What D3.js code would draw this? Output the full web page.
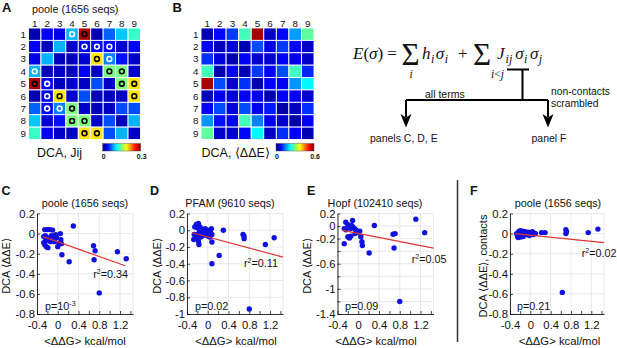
<!DOCTYPE html>
<html>
<head>
<meta charset="utf-8">
<script src="https://cdn.jsdelivr.net/npm/d3@7"></script>
<style>
body { margin: 0; background: #fff; }
svg text { font-family: "Liberation Sans", Arial, sans-serif; fill: #111; }
.eq text { font-family: "Liberation Serif", "DejaVu Serif", serif; }
</style>
</head>
<body>
<svg id="chart" width="617" height="348"></svg>
<script>
// ---- data ----
var sites = [1, 2, 3, 4, 5, 6, 7, 8, 9];

// panel A: DCA Jij (colour scale 0..0.3)
var jijValues = [
  [.015, .036, .030, .090, .288, .015, .066, .096, .129],
  [.036, .018, .090, .021, .036, .036, .039, .024, .036],
  [.030, .090, .018, .018, .024, .195, .075, .042, .021],
  [.090, .018, .021, .018, .036, .021, .150, .150, .021],
  [.288, .036, .018, .024, .021, .060, .021, .150, .195],
  [.015, .036, .195, .021, .060, .018, .018, .021, .195],
  [.066, .039, .075, .150, .021, .018, .018, .060, .060],
  [.096, .024, .042, .150, .150, .021, .060, .018, .090],
  [.129, .036, .021, .021, .195, .195, .060, .090, .021]
];
// panel B: DCA <ddE> (colour scale 0..0.6)
var ddeValues = [
  [.030, .078, .108, .264, .576, .042, .078, .168, .282],
  [.072, .036, .054, .030, .120, .060, .108, .078, .042],
  [.102, .054, .030, .072, .048, .048, .072, .060, .042],
  [.264, .030, .072, .030, .108, .072, .120, .264, .096],
  [.576, .120, .048, .102, .030, .072, .072, .162, .222],
  [.036, .066, .054, .072, .072, .030, .072, .072, .048],
  [.072, .120, .054, .120, .066, .090, .024, .042, .102],
  [.162, .084, .066, .264, .150, .066, .048, .024, .072],
  [.282, .042, .048, .078, .222, .042, .102, .072, .030]
];
var contacts = [[1,4],[1,5],[2,5],[2,6],[2,7],[3,6],[3,7],[4,7],[4,8],[5,8],[5,9],[6,9]];

// scatter panels: [<ddG>, DCA <ddE>]
var poolePoints = [
  [-0.25,0.04],[-0.2,0.04],[-0.15,0.04],[-0.1,0.035],[0.3,0.075],
  [-0.27,-0.03],[-0.24,-0.02],[-0.2,-0.05],[-0.16,-0.04],[-0.12,-0.02],[-0.08,-0.05],[-0.04,-0.01],[-0.02,-0.04],[0.05,0.0],[0.06,-0.06],
  [-0.27,-0.09],[-0.25,-0.11],[-0.22,-0.13],[-0.19,-0.14],[-0.23,-0.07],[-0.14,-0.08],[-0.06,-0.08],[0.0,-0.13],[0.03,-0.1],[0.07,-0.1],
  [0.08,-0.21],[0.22,-0.28],[0.69,-0.12],[0.72,-0.17],[0.7,-0.26],[1.15,-0.18],[1.32,-0.25],[0.8,-0.59]
];
var pfamPoints = [
  [-0.22,0.07],[-0.18,0.08],[-0.25,0.04],[-0.2,0.03],[-0.15,0.04],
  [-0.1,0.01],[-0.07,-0.01],[-0.05,0.02],[-0.03,-0.02],[0.0,0.0],[0.02,-0.03],[0.05,-0.01],[0.07,0.02],[0.08,-0.05],
  [-0.12,-0.04],[-0.16,-0.02],[-0.2,-0.05],[-0.26,-0.05],[-0.27,-0.11],[-0.22,-0.09],[-0.18,-0.13],[-0.17,-0.17],
  [-0.13,-0.08],[-0.08,-0.06],[0.0,-0.07],[0.04,-0.08],[0.08,-0.14],
  [0.3,0.0],[0.68,-0.05],[0.7,-0.07],[0.7,-0.1],[1.11,-0.17],[1.28,-0.09],[0.22,-0.3],[0.08,-0.4],[0.8,-0.94]
];
var hopfPoints = [
  [-0.24,0.06],[-0.11,0.09],[-0.2,0.02],[-0.17,0.0],[-0.13,0.01],[-0.1,-0.02],[-0.07,-0.04],[-0.05,-0.06],
  [-0.02,-0.08],[0.0,-0.1],[0.03,-0.08],[-0.27,-0.04],[-0.24,-0.06],[-0.15,-0.04],[-0.2,-0.17],[-0.17,-0.19],
  [-0.14,-0.16],[-0.27,-0.28],[0.05,-0.17],[0.07,-0.25],[0.08,-0.31],[-0.06,-0.12],[0.31,0.01],[0.21,-0.43],
  [0.67,-0.13],[0.71,-0.12],[0.69,-0.35],[1.11,0.11],[1.28,-0.105],[0.8,-1.2]
];
var contactPoints = [
  [-0.27,0.0],[-0.25,-0.03],[-0.23,0.02],[-0.21,-0.01],[-0.2,0.03],[-0.18,-0.02],[-0.16,0.01],[-0.14,-0.03],
  [-0.12,0.0],[-0.1,0.02],[-0.08,-0.01],[-0.06,0.0],[-0.04,0.015],[-0.02,-0.02],[0.0,0.01],[0.02,0.0],
  [0.04,0.02],[0.06,-0.01],[0.08,0.005],[-0.24,-0.04],[-0.19,-0.035],[-0.15,0.025],[0.1,0.0],
  [0.22,0.01],[0.29,0.01],[0.7,0.04],[0.71,0.02],[0.7,0.0],[1.14,0.01],[1.33,0.045],[0.63,-0.585]
];
// regression lines (end points)
var pooleFit = [[-0.28,-0.03],[1.3,-0.32]];
var pfamFit = [[-0.3,-0.03],[1.45,-0.32]];
var hopfFit = [[-0.3,-0.07],[1.45,-0.35]];
var contactFit = [[-0.3,0.0],[1.45,-0.09]];

var xTickValues = [-0.4, -0.2, 0, 0.2, 0.4, 0.6, 0.8, 1.0, 1.2, 1.4];
var xTickLabels = [-0.4, 0, 0.4, 0.8, 1.2];
var yTicks08 = [0.2, 0, -0.2, -0.4, -0.6, -0.8];
var yTicks10 = [0.2, 0, -0.2, -0.4, -0.6, -0.8, -1];
var yTicks14 = [0.2, 0, -0.2, -0.4, -0.6, -0.8, -1, -1.2, -1.4];
var yLabels14 = [0.2, 0, -0.2, -0.6, -1, -1.4];

var svg = d3.select("#chart");
var defs = svg.append("defs");

// matlab jet colormap
var jetStops = [0, 0.125, 0.375, 0.625, 0.875, 1];
var jetColors = ["#000080", "#0000ff", "#00ffff", "#ffff00", "#ff0000", "#800000"];
function jet(maxVal) {
  return d3.scaleLinear().domain(jetStops.map(function(d){ return d * maxVal; })).range(jetColors).clamp(true);
}
var grad = defs.append("linearGradient").attr("id", "jetgrad");
jetStops.forEach(function(s, i){ grad.append("stop").attr("offset", s).attr("stop-color", jetColors[i]); });

function heatmap(values, maxVal, box, cbar, showContacts) {
  var xs = d3.scaleBand().domain(sites).range([box.x0, box.x1]);
  var ys = d3.scaleBand().domain(sites).range([box.y0, box.y1]);
  var color = jet(maxVal);
  var cells = [];
  values.forEach(function(row, i){ row.forEach(function(v, j){ cells.push({r: sites[i], c: sites[j], v: v}); }); });
  var g = svg.append("g");
  g.selectAll("rect").data(cells).enter().append("rect")
    .attr("x", function(d){ return xs(d.c); })
    .attr("y", function(d){ return ys(d.r); })
    .attr("width", xs.bandwidth())
    .attr("height", ys.bandwidth())
    .attr("fill", function(d){ return color(d.v); })
    .attr("stroke", "#fff").attr("stroke-width", 0.9);
  if (showContacts) {
    var rings = [];
    contacts.forEach(function(p){
      rings.push({r: p[0], c: p[1]});
      rings.push({r: p[1], c: p[0]});
    });
    g.selectAll("circle").data(rings).enter().append("circle")
      .attr("cx", function(d){ return xs(d.c) + xs.bandwidth() / 2; })
      .attr("cy", function(d){ return ys(d.r) + ys.bandwidth() / 2; })
      .attr("r", 2.4)
      .attr("fill", "none")
      .attr("stroke-width", 1.6)
      .attr("stroke", function(d){ return values[d.r - 1][d.c - 1] / maxVal > 0.4 ? "#000" : "#fff"; });
  }
  g.selectAll(".col").data(sites).enter().append("text")
    .attr("x", function(d){ return xs(d) + xs.bandwidth() / 2; })
    .attr("y", box.y0 - 1.5)
    .attr("text-anchor", "middle").attr("font-size", 9.8).text(function(d){ return d; });
  g.selectAll(".row").data(sites).enter().append("text")
    .attr("x", box.x0 - 2.5)
    .attr("y", function(d){ return ys(d) + ys.bandwidth() / 2 + 3.5; })
    .attr("text-anchor", "end").attr("font-size", 9.8).text(function(d){ return d; });
  // colorbar
  g.append("rect").attr("x", cbar.x).attr("y", 143.5).attr("width", cbar.w).attr("height", 7.5)
    .attr("fill", "url(#jetgrad)").attr("stroke", "#444").attr("stroke-width", 0.4);
  g.append("text").attr("x", cbar.x + 1).attr("y", 158.5).attr("text-anchor", "middle")
    .attr("font-size", 7).attr("font-weight", "bold").text("0");
  g.append("text").attr("x", cbar.x + cbar.w + 1).attr("y", 158.5).attr("text-anchor", "middle")
    .attr("font-size", 7).attr("font-weight", "bold").text(maxVal);
}

heatmap(jijValues, 0.3, {x0: 28.5, x1: 140.5, y0: 28, y1: 139.5}, {x: 102.7, w: 38}, true);
heatmap(ddeValues, 0.6, {x0: 201, x1: 314, y0: 28, y1: 139.5}, {x: 276, w: 38}, false);

svg.append("text").attr("x", 2).attr("y", 12.3).attr("font-size", 13).attr("font-weight", "bold").text("A");
svg.append("text").attr("x", 172.5).attr("y", 12.3).attr("font-size", 13).attr("font-weight", "bold").text("B");
svg.append("text").attr("x", 32).attr("y", 12.8).attr("font-size", 10.8).text("poole (1656 seqs)");
svg.append("text").attr("x", 37).attr("y", 156.5).attr("font-size", 12.5).text("DCA, Jij");
svg.append("text").attr("x", 201.5).attr("y", 156.5).attr("font-size", 12.5).text("DCA, \u27E8\u0394\u0394E\u27E9");

// ---- equation and flow diagram ----
var eq = svg.append("g").attr("class", "eq");
var t1 = eq.append("text").attr("x", 353).attr("y", 59).attr("font-size", 17);
t1.append("tspan").attr("font-style", "italic").text("E");
t1.append("tspan").text("(");
t1.append("tspan").attr("font-style", "italic").text("\u03C3");
t1.append("tspan").text(") =");
eq.append("text").attr("x", 401.5).attr("y", 64.5).attr("font-size", 31).text("\u03A3");
eq.append("text").attr("x", 411).attr("y", 78).attr("font-size", 11.5).attr("font-style", "italic").attr("text-anchor", "middle").text("i");
var t2 = eq.append("text").attr("x", 422).attr("y", 59).attr("font-size", 17).attr("font-style", "italic");
t2.append("tspan").text("h");
t2.append("tspan").attr("font-size", 12).attr("dy", 4).attr("dx", 0.5).text("i");
t2.append("tspan").attr("dy", -4).attr("dx", 1.5).text("\u03C3");
t2.append("tspan").attr("font-size", 12).attr("dy", 4).attr("dx", 0.5).text("i");
eq.append("text").attr("x", 458).attr("y", 59).attr("font-size", 17).text("+");
eq.append("text").attr("x", 473).attr("y", 64.5).attr("font-size", 31).text("\u03A3");
var t3 = eq.append("text").attr("x", 497.5).attr("y", 78).attr("font-size", 11.5).attr("text-anchor", "middle");
t3.append("tspan").attr("font-style", "italic").text("i");
t3.append("tspan").text("<");
t3.append("tspan").attr("font-style", "italic").text("j");
var t4 = eq.append("text").attr("x", 497).attr("y", 59).attr("font-size", 17).attr("font-style", "italic");
t4.append("tspan").text("J");
t4.append("tspan").attr("font-size", 12).attr("dy", 4).attr("dx", 1).text("ij");
t4.append("tspan").attr("dy", -4).attr("dx", 3).text("\u03C3");
t4.append("tspan").attr("font-size", 12).attr("dy", 4).attr("dx", 0.5).text("i");
t4.append("tspan").attr("dy", -4).attr("dx", 2.5).text("\u03C3");
t4.append("tspan").attr("font-size", 12).attr("dy", 4).attr("dx", 0.5).text("j");

var flow = svg.append("g").attr("stroke", "#000").attr("stroke-width", 2).attr("fill", "none");
flow.append("path").attr("d", "M507,69.5H529 M522.5,69.5V100 M406,100H548 M406,100V117 M548,100V117");
[406, 548].forEach(function(x){
  svg.append("path").attr("d", "M" + x + ",127.5L" + (x - 5.5) + ",114L" + x + ",117.5L" + (x + 5.5) + ",114Z").attr("fill", "#000");
});
svg.append("text").attr("x", 425).attr("y", 97.5).attr("font-size", 10.5).text("all terms");
svg.append("text").attr("x", 551).attr("y", 95).attr("font-size", 10.3).text("non-contacts");
svg.append("text").attr("x", 551).attr("y", 106.5).attr("font-size", 10.3).text("scrambled");
svg.append("text").attr("x", 370).attr("y", 141.5).attr("font-size", 10.5).text("panels C, D, E");
svg.append("text").attr("x", 531.5).attr("y", 141.5).attr("font-size", 10.5).text("panel F");

// separator
svg.append("line").attr("x1", 457.5).attr("x2", 457.5).attr("y1", 180).attr("y2", 342)
  .attr("stroke", "#333").attr("stroke-width", 1.5);

// ---- scatter panels ----
function fmt(v) { return String(+v.toFixed(1)); }

function scatter(cfg, points, fit, yTicks, yLabels) {
  var x = d3.scaleLinear().domain([-0.4, 1.45]).range([cfg.x0, cfg.x1]);
  var y = d3.scaleLinear().domain([yTicks[yTicks.length - 1], yTicks[0]]).range([314, 213.5]);
  var g = svg.append("g");
  // grid
  g.selectAll(".gy").data(yTicks).enter().append("line")
    .attr("x1", cfg.x0).attr("x2", cfg.x1)
    .attr("y1", function(d){ return y(d); }).attr("y2", function(d){ return y(d); })
    .attr("stroke", "#e2e2e2").attr("stroke-width", 0.8);
  g.selectAll(".gx").data(xTickLabels.concat([1.45])).enter().append("line")
    .attr("x1", function(d){ return x(d); }).attr("x2", function(d){ return x(d); })
    .attr("y1", 213.5).attr("y2", 314)
    .attr("stroke", "#e2e2e2").attr("stroke-width", 0.8);
  // axes
  var ax = g.append("g").attr("transform", "translate(0,314)")
    .call(d3.axisBottom(x).tickValues(xTickValues).tickSize(-3).tickSizeOuter(0).tickPadding(7)
      .tickFormat(function(d){ return xTickLabels.indexOf(d) >= 0 ? fmt(d) : ""; }));
  var ay = g.append("g").attr("transform", "translate(" + cfg.x0 + ",0)")
    .call(d3.axisLeft(y).tickValues(yTicks).tickSize(-3).tickSizeOuter(0).tickPadding(2)
      .tickFormat(function(d){ return yLabels.indexOf(d) >= 0 ? fmt(d) : ""; }));
  [ax, ay].forEach(function(a){
    a.selectAll("text").attr("font-size", 11.3).attr("font-family", null).attr("fill", "#111");
    a.select(".domain").attr("stroke", "#000").attr("stroke-width", 0.8);
    a.selectAll(".tick line").attr("stroke", "#000").attr("stroke-width", 0.7);
  });
  // points
  g.selectAll(".pt").data(points).enter().append("circle")
    .attr("cx", function(d){ return x(d[0]); })
    .attr("cy", function(d){ return y(d[1]); })
    .attr("r", 2.7).attr("fill", "#1010e0");
  // fit
  g.append("path").datum(fit)
    .attr("d", d3.line().x(function(d){ return x(d[0]); }).y(function(d){ return y(d[1]); }))
    .attr("stroke", "#e03535").attr("stroke-width", 1.2).attr("fill", "none");
  // labels
  svg.append("text").attr("x", cfg.labelX).attr("y", 194.5).attr("font-size", 12.5).attr("font-weight", "bold").text(cfg.label);
  svg.append("text").attr("x", cfg.titleX).attr("y", 207).attr("text-anchor", "middle").attr("font-size", 10.8).text(cfg.title);
  svg.append("text").attr("x", cfg.xTitleX).attr("y", 345).attr("text-anchor", "middle").attr("font-size", 11.3)
    .text("<\u0394\u0394G> kcal/mol");
  svg.append("text").attr("transform", "translate(" + cfg.yTitleX + ",266) rotate(-90)")
    .attr("text-anchor", "middle").attr("dy", "0.36em").attr("font-size", 11).text(cfg.yTitle);
  var r = svg.append("text").attr("x", cfg.r2X).attr("y", cfg.r2Y).attr("text-anchor", "end").attr("font-size", 10.8);
  r.append("tspan").text("r");
  r.append("tspan").attr("font-size", 7).attr("dy", -4).text("2");
  r.append("tspan").attr("dy", 4).text("=" + cfg.r2);
  var p = svg.append("text").attr("x", cfg.pX).attr("y", 309.5).attr("font-size", 10.8);
  if (cfg.pExp) {
    p.append("tspan").text("p=10");
    p.append("tspan").attr("font-size", 7).attr("dy", -4).text(cfg.pExp);
  } else {
    p.text("p=" + cfg.p);
  }
}

scatter({x0: 37, x1: 133, label: "C", labelX: 1.5, title: "poole (1656 seqs)", titleX: 85, xTitleX: 85,
  yTitle: "DCA \u27E8\u0394\u0394E\u27E9", yTitleX: 6, r2: "0.34", r2X: 128, r2Y: 278, pX: 45, pExp: "-3"},
  poolePoints, pooleFit, yTicks08, yTicks08);
scatter({x0: 187, x1: 283, label: "D", labelX: 150, title: "PFAM (9610 seqs)", titleX: 230, xTitleX: 236,
  yTitle: "DCA \u27E8\u0394\u0394E\u27E9", yTitleX: 157.5, r2: "0.11", r2X: 278, r2Y: 266.5, pX: 195, p: "0.02"},
  pfamPoints, pfamFit, yTicks10, yTicks10);
scatter({x0: 337.5, x1: 433.5, label: "E", labelX: 307, title: "Hopf (102410 seqs)", titleX: 375, xTitleX: 376,
  yTitle: "DCA \u27E8\u0394\u0394E\u27E9", yTitleX: 307.5, r2: "0.05", r2X: 446.5, r2Y: 262.5, pX: 345, p: "0.09"},
  hopfPoints, hopfFit, yTicks14, yLabels14);
scatter({x0: 510, x1: 604, label: "F", labelX: 470, title: "poole (1656 seqs)", titleX: 558, xTitleX: 559.5,
  yTitle: "DCA \u27E8\u0394\u0394E\u27E9, contacts", yTitleX: 483, r2: "0.02", r2X: 616.5, r2Y: 257, pX: 517, p: "0.21"},
  contactPoints, contactFit, yTicks08, yTicks08);
</script>
</body>
</html>
